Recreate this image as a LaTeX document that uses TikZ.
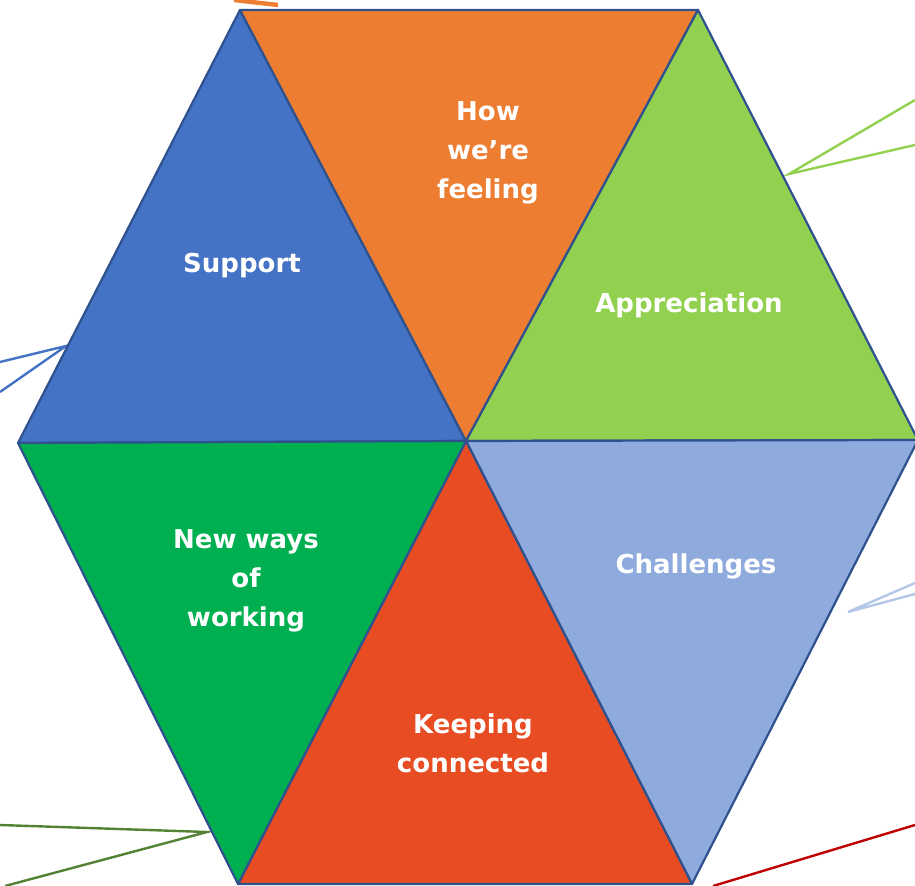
\documentclass[tikz,border=0pt]{standalone}
\usepackage{fontspec}
\setsansfont{DejaVu Sans}
\usepackage{xcolor}
\definecolor{myblue}{RGB}{68,114,196}
\definecolor{myorange}{RGB}{237,125,49}
\definecolor{mylime}{RGB}{146,208,80}
\definecolor{mylightblue}{RGB}{143,170,220}
\definecolor{myred}{RGB}{232,76,34}
\definecolor{mygreen}{RGB}{0,176,80}
\definecolor{myedge}{RGB}{47,82,143}
\definecolor{myolive}{RGB}{84,130,53}
\definecolor{mydarkred}{RGB}{192,0,0}
\definecolor{mypale}{RGB}{180,199,231}

\begin{document}
\begin{tikzpicture}[x=0.5pt,y=-0.5pt,
every node/.style={white,font=\sffamily\bfseries\fontsize{13}{19.5}\selectfont,align=center},
tri/.style={draw=myedge,line width=1.1pt,line join=round},
ray/.style={line width=1.2pt}]
\useasboundingbox (0,0) rectangle (915,886);
% hexagon corners
\coordinate (TL) at (240,10);
\coordinate (TR) at (698,10);
\coordinate (L) at (18,443);
\coordinate (R) at (918,440);
\coordinate (BL) at (238,884);
\coordinate (BR) at (692,884);
\coordinate (O) at (466,441);
% rays behind the hexagon
\coordinate (gA) at (789,174);
\coordinate (gB) at (915,100);
\coordinate (gC) at (915,145);
\draw[ray,mylime] (gB) -- (gA) -- (gC);
\coordinate (bA) at (66,346);
\coordinate (bB) at (0,362);
\coordinate (bC) at (0,392);
\draw[ray,myblue] (bB) -- (bA) -- (bC);
\coordinate (cA) at (848,612);
\coordinate (cB) at (915,583);
\coordinate (cC) at (915,594);
\draw[ray,mypale] (cB) -- (cA) -- (cC);
\coordinate (nA) at (207,832);
\coordinate (nB) at (0,825);
\coordinate (nC) at (5,886);
\draw[ray,myolive] (nB) -- (nA) -- (nC);
\coordinate (kA) at (713,886);
\coordinate (kB) at (915,825);
\draw[ray,mydarkred] (kA) -- (kB);
\coordinate (fA) at (234,0);
\coordinate (fB) at (278,5);
\draw[myorange,line width=2.2pt] (fA) -- (fB);
% the six triangles
\filldraw[tri,fill=myblue] (TL) -- (L) -- (O) -- cycle;
\filldraw[tri,fill=myorange] (TL) -- (TR) -- (O) -- cycle;
\filldraw[tri,fill=mylime] (TR) -- (O) -- (R) -- cycle;
\filldraw[tri,fill=mylightblue] (O) -- (R) -- (BR) -- cycle;
\filldraw[tri,fill=myred] (O) -- (BL) -- (BR) -- cycle;
\filldraw[tri,fill=mygreen] (L) -- (O) -- (BL) -- cycle;
% labels
\node (support) at (242,266) {Support};
\node (feeling) at (488,153) {How\\we’re\\feeling};
\node (appreciation) at (689,305) {Appreciation};
\node (challenges) at (696,566) {Challenges};
\node (connected) at (473,743) {Keeping\\connected};
\node (newways) at (246,581) {New ways\\of\\working};
\end{tikzpicture}
\end{document}
